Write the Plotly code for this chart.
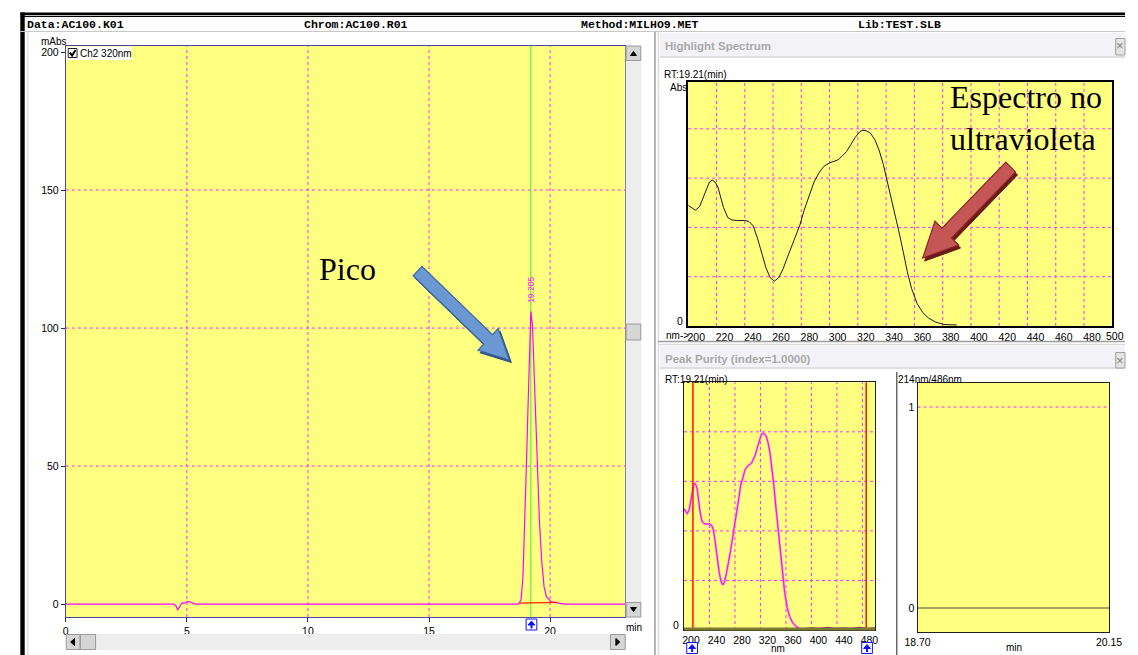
import math
import plotly.graph_objects as go

W, H = 1138, 655
SANS = "Liberation Sans"
SERIF = "Liberation Serif"
MONO = "Liberation Mono"
YELLOW = "#ffff80"
GRID = "#ff2cff"
MAGENTA = "#ff00ff"

# ---------------- data ----------------
# Chromatogram, channel 2 (320 nm), mAbs vs retention time (min)
chrom_time_min = [0.0, 4.45, 4.55, 4.62, 4.70, 4.80, 4.90, 5.00, 5.10, 5.20, 5.35,
                  18.70, 18.80, 18.88, 18.95, 19.02, 19.09, 19.15, 19.205, 19.27, 19.34,
                  19.41, 19.48, 19.56, 19.65, 19.75, 19.85, 20.05, 20.30, 20.60, 23.10]
chrom_mabs = [0.0, 0.0, -0.6, -2.2, -1.0, 0.4, 0.3, 0.8, 0.9, 0.6, 0.0,
              0.0, 1.5, 10.0, 28.0, 50.0, 72.0, 94.0, 106.0, 101.0, 82.0,
              64.0, 50.0, 30.0, 16.0, 6.3, 2.6, 0.8, 0.4, 0.0, 0.0]
peak_rt_min = 19.205
peak_label = "19.205"
baseline_time_min = [18.75, 20.30]
baseline_mabs = [0.3, 0.6]

# UV spectrum at RT 19.21 min
spectrum_nm = [200, 203, 205, 208, 211, 213, 215, 217, 219, 221, 223, 225, 228, 231,
               235, 240, 243, 246, 249, 252, 255, 258, 261, 264, 267, 270, 275, 279,
               282, 286, 289, 293, 296, 300, 306, 309, 312, 315, 318, 321, 323, 326,
               329, 332, 335, 338, 341, 345, 349, 352, 355, 358, 362, 366, 370, 375,
               381, 390]
spectrum_abs = [2.45, 2.38, 2.35, 2.42, 2.65, 2.80, 2.92, 2.96, 2.92, 2.82, 2.60, 2.40,
                2.20, 2.15, 2.14, 2.14, 2.12, 2.03, 1.78, 1.45, 1.18, 0.98, 0.91, 0.98,
                1.15, 1.38, 1.75, 2.05, 2.35, 2.66, 2.92, 3.13, 3.24, 3.31, 3.37, 3.45,
                3.54, 3.68, 3.82, 3.93, 3.97, 3.96, 3.91, 3.78, 3.57, 3.28, 2.92, 2.38,
                1.92, 1.52, 1.10, 0.76, 0.45, 0.27, 0.16, 0.08, 0.03, 0.02]
# spectra tail used in the peak purity overlay
purity_tail_nm = [390, 400, 412, 425, 438, 450, 462, 475, 488, 500]
purity_tail_abs = [0.02, 0.03, 0.02, 0.04, 0.02, 0.03, 0.02, 0.04, 0.02, 0.03]
purity_window_nm = [214, 486]

# 214nm/486nm ratio across the peak
ratio_time_min = [18.70, 20.15]
ratio_value = [0.0, 0.0]

# tick labels and grid positions
chrom_time_ticks = [0, 5, 10, 15, 20]
chrom_abs_ticks = [0, 50, 100, 150, 200]
chrom_grid_time = [5, 10, 15, 20]
chrom_grid_abs = [50, 100, 150]
spectrum_nm_ticks = list(range(200, 481, 20))
spectrum_grid_nm = list(range(220, 481, 20))
spectrum_grid_abs = [1, 2, 3, 4]
purity_nm_ticks = list(range(200, 481, 40))
purity_grid_nm = list(range(240, 481, 40))
purity_grid_abs = [1, 2, 3, 4]
ratio_time_ticks = [18.70, 20.15]
ratio_time_text = ["18.70", "20.15"]
ratio_ticks = [0, 1]


# ---------------- helpers (pixel -> paper) ----------------
def fx(x):
    return x / W


def fy(y):
    return 1 - y / H


shapes = []
annotations = []


def prect(x0, y0, x1, y1, fill, line=None, lw=0, layer="above"):
    shapes.append(dict(type="rect", xref="paper", yref="paper",
                       x0=fx(x0), x1=fx(x1), y0=fy(y1), y1=fy(y0),
                       fillcolor=fill, layer=layer,
                       line=dict(color=line or fill, width=lw)))


def pline(x0, y0, x1, y1, color, width=1, layer="above"):
    shapes.append(dict(type="line", xref="paper", yref="paper",
                       x0=fx(x0), x1=fx(x1), y0=fy(y0), y1=fy(y1),
                       layer=layer, line=dict(color=color, width=width)))


def ppath(points, fill, line=None, lw=1, layer="above"):
    d = "M " + " L ".join(f"{fx(x):.5f},{fy(y):.5f}" for x, y in points) + " Z"
    shapes.append(dict(type="path", xref="paper", yref="paper", path=d,
                       fillcolor=fill, layer=layer,
                       line=dict(color=line or fill, width=lw)))


def text(t, x, y, size=10.5, color="black", family=SANS, xanchor="left",
         yanchor="middle", **kw):
    annotations.append(dict(text=t, xref="paper", yref="paper", x=fx(x), y=fy(y),
                            xanchor=xanchor, yanchor=yanchor, showarrow=False,
                            borderpad=0, font=dict(size=size, color=color, family=family),
                            **kw))


def vgrid(xa, ya, values, color=GRID, width=1, dash="3px,3px"):
    for v in values:
        shapes.append(dict(type="line", xref=xa, yref=ya + " domain", x0=v, x1=v,
                           y0=0, y1=1, layer="below",
                           line=dict(color=color, width=width, dash=dash)))


def hgrid(xa, ya, values, color=GRID, width=1, dash="3px,3px"):
    for v in values:
        shapes.append(dict(type="line", xref=xa + " domain", yref=ya, x0=0, x1=1,
                           y0=v, y1=v, layer="below",
                           line=dict(color=color, width=width, dash=dash)))


def block_arrow(tail, tip, shaft_hw, head_hw, head_len):
    dx, dy = tip[0] - tail[0], tip[1] - tail[1]
    L = math.hypot(dx, dy)
    ux, uy = dx / L, dy / L
    nx, ny = -uy, ux
    bx, by = tip[0] - head_len * ux, tip[1] - head_len * uy
    return [(tail[0] + shaft_hw * nx, tail[1] + shaft_hw * ny),
            (bx + shaft_hw * nx, by + shaft_hw * ny),
            (bx + head_hw * nx, by + head_hw * ny),
            tip,
            (bx - head_hw * nx, by - head_hw * ny),
            (bx - shaft_hw * nx, by - shaft_hw * ny),
            (tail[0] - shaft_hw * nx, tail[1] - shaft_hw * ny)]


def up_marker(cx, y0, y1):
    prect(cx - 5.5, y0, cx + 5.5, y1, "#ffffff", "#1010ff", 1)
    ppath([(cx - 3.5, y0 + 6), (cx, y0 + 2), (cx + 3.5, y0 + 6)], "#1010ff")
    prect(cx - 1, y0 + 5.5, cx + 1, y1 - 1.5, "#1010ff")


# ---------------- figure ----------------
fig = go.Figure()

fig.add_trace(go.Scatter(x=chrom_time_min, y=chrom_mabs, mode="lines",
                         line=dict(color=MAGENTA, width=1.2), xaxis="x", yaxis="y"))
fig.add_trace(go.Scatter(x=baseline_time_min, y=baseline_mabs, mode="lines",
                         line=dict(color="#ff2000", width=1.2), xaxis="x", yaxis="y"))

fig.add_trace(go.Scatter(x=spectrum_nm, y=spectrum_abs, mode="lines",
                         line=dict(color="#1a1a1a", width=1), xaxis="x2", yaxis="y2"))

fig.add_trace(go.Scatter(x=spectrum_nm, y=spectrum_abs, mode="lines",
                         line=dict(color="#ff8ad0", width=2.2), xaxis="x3", yaxis="y3"))
fig.add_trace(go.Scatter(x=spectrum_nm, y=spectrum_abs, mode="lines",
                         line=dict(color=MAGENTA, width=1), xaxis="x3", yaxis="y3"))
fig.add_trace(go.Scatter(x=purity_tail_nm, y=purity_tail_abs, mode="lines",
                         line=dict(color="#a01890", width=2.5), xaxis="x3", yaxis="y3"))

fig.add_trace(go.Scatter(x=ratio_time_min, y=ratio_value, mode="lines",
                         line=dict(color="#4a4a30", width=1.2), xaxis="x4", yaxis="y4"))

# gridlines
vgrid("x", "y", chrom_grid_time)
hgrid("x", "y", chrom_grid_abs)
vgrid("x2", "y2", spectrum_grid_nm)
hgrid("x2", "y2", spectrum_grid_abs)
vgrid("x3", "y3", purity_grid_nm)
hgrid("x3", "y3", purity_grid_abs)
hgrid("x4", "y4", [1])

# retention-time cursor and purity window limits
shapes.append(dict(type="line", xref="x", yref="y domain", x0=peak_rt_min, x1=peak_rt_min,
                   y0=0, y1=1, layer="below", line=dict(color="#40e840", width=1)))
for nm in purity_window_nm:
    shapes.append(dict(type="line", xref="x3", yref="y3 domain", x0=nm, x1=nm,
                       y0=0, y1=1, layer="above", line=dict(color="#ff1010", width=1.5)))
# olive floor of the purity overlay
shapes.append(dict(type="line", xref="x3 domain", yref="y3 domain", x0=0, x1=1,
                   y0=0.004, y1=0.004, layer="above", line=dict(color="#7a7a30", width=3)))

tick_font = dict(family=SANS, size=10.5, color="black")
common = dict(showgrid=False, zeroline=False, showline=True, mirror=True,
              tickfont=tick_font, fixedrange=True)

fig.update_layout(
    width=W, height=H, autosize=False,
    margin=dict(l=0, r=0, t=0, b=0, pad=0),
    paper_bgcolor="white", plot_bgcolor=YELLOW,
    showlegend=False, hovermode=False,
    xaxis=dict(domain=[fx(54), fx(626.5)], range=[0, 23.1], anchor="y",
               tickvals=chrom_time_ticks, ticks="outside", ticklen=4, tickcolor="#333",
               linecolor="#4848a0", linewidth=1, **common),
    yaxis=dict(domain=[fy(617), fy(46)], range=[-4.7, 202.2], anchor="x",
               tickvals=chrom_abs_ticks, ticks="outside", ticklen=4, tickcolor="#333",
               linecolor="#4848a0", linewidth=1, **common),
    xaxis2=dict(domain=[fx(691), fx(1125)], range=[200, 500], anchor="y2",
                tickvals=spectrum_nm_ticks, ticks="", ticklabelshift=8,
                linecolor="black", linewidth=2, **common),
    yaxis2=dict(domain=[fy(326), fy(81.5)], range=[0, 4.96], anchor="x2",
                showticklabels=False, ticks="", linecolor="black", linewidth=2, **common),
    xaxis3=dict(domain=[fx(686.7), fx(882.3)], range=[200, 500], anchor="y3",
                tickvals=purity_nm_ticks, ticks="", ticklabelshift=7,
                linecolor="#202020", linewidth=1, **common),
    yaxis3=dict(domain=[fy(630), fy(382.3)], range=[0, 5.0], anchor="x3",
                showticklabels=False, ticks="", linecolor="#202020", linewidth=1, **common),
    xaxis4=dict(domain=[fx(925.7), fx(1121.7)], range=[18.70, 20.15], anchor="y4",
                tickvals=ratio_time_ticks, ticktext=ratio_time_text, ticks="",
                linecolor="#202020", linewidth=1, **common),
    yaxis4=dict(domain=[fy(632.3), fy(382.7)], range=[-0.121, 1.121], anchor="x4",
                tickvals=ratio_ticks, ticks="", linecolor="#202020", linewidth=1, **common),
)

# ---------------- window chrome ----------------
prect(7.5, 12.5, W, 15.2, "black")
pline(7.5, 16.5, W, 16.5, "black", 1.2)
prect(7.5, 12.5, 12, H, "black")
pline(7.5, 31.5, W, 31.5, "#c8c8c8", 1)
pline(15, 32, 15, H, "#d8d8d8", 1)

# header row
text("<b>Data:AC100.K01</b>", 13, 24.5, 11.5, family=MONO)
text("<b>Chrom:AC100.R01</b>", 297, 24.5, 11.5, family=MONO)
text("<b>Method:MILHO9.MET</b>", 580, 24.5, 11.5, family=MONO)
text("<b>Lib:TEST.SLB</b>", 864, 24.5, 11.5, family=MONO)

# main chromatogram decorations
text("mAbs", 41.5, 41.5, 10, xanchor="center")
prect(54.5, 46.5, 121, 60, "white")
prect(56.5, 48.5, 65.5, 57.5, "white", "#202020", 1)
shapes.append(dict(type="path", xref="paper", yref="paper", layer="above",
                   path=f"M {fx(58)},{fy(52.5)} L {fx(60.5)},{fy(55.5)} L {fx(64)},{fy(50)}",
                   line=dict(color="black", width=2)))
text("Ch2 320nm", 68, 53.5, 10)
text("min", 635.5, 627.5, 10, xanchor="center")
annotations.append(dict(text=peak_label, x=peak_rt_min, xref="x", y=fy(290), yref="paper",
                        textangle=-90, showarrow=False, xanchor="center", yanchor="middle",
                        font=dict(size=8.5, color="#ff00ff", family=SANS)))
up_marker(530.6, 619, 630)

# vertical scrollbar
prect(627, 46, 643, 617, "#ededed")
for (a, b) in [(46, 60.5), (602.5, 617)]:
    prect(627.5, a, 642.5, b, "#d6d6d6", "#9a9a9a", 1)
ppath([(632, 55.5), (635, 51.5), (638, 55.5)], "black")
ppath([(632, 607.5), (635, 611.5), (638, 607.5)], "black")
prect(627.5, 324, 642.5, 340, "#d6d6d6", "#9a9a9a", 1)
# horizontal scrollbar
prect(54, 634, 627, 650, "#ededed")
for (a, b) in [(54.5, 68.5), (69, 84.5), (611.5, 626.5)]:
    prect(a, 634.5, b, 649.5, "#d6d6d6", "#9a9a9a", 1)
ppath([(63, 638.5), (59, 642), (63, 645.5)], "black")
ppath([(617, 638.5), (621, 642), (617, 645.5)], "black")

# right-hand panels: separators and title bars
pline(657, 32, 657, H, "#9c9c9c", 1.5)
pline(660.5, 32, 660.5, H, "#dcdcdc", 1.5)
prect(662, 33, W, 56.5, "#f3f3f7")
pline(662, 57, W, 57, "#c0c0c0", 1)
prect(1128.5, 38.5, W, 55, "#e4e4e4", "#a0a0a0", 1)
text("×", 1132.5, 46, 13, color="#808080", xanchor="center")
text("<b>Highlight Spectrum</b>", 666, 45.7, 11.5, color="#a9a9a9")

pline(660, 341.5, W, 341.5, "#9c9c9c", 1.5)
pline(660, 344.5, W, 344.5, "#dcdcdc", 1.5)
prect(662, 346, W, 367, "#f3f3f7")
pline(662, 368, W, 368, "#c0c0c0", 1)
prect(1128.5, 352.5, W, 368, "#e4e4e4", "#a0a0a0", 1)
text("×", 1132.5, 360, 13, color="#808080", xanchor="center")
text("<b>Peak Purity (index=1.0000)</b>", 666, 359, 11.5, color="#a9a9a9")

# spectrum labels
text("RT:19.21(min)", 665, 75, 10)
text("Abs", 671, 88, 10)
text("0", 687, 321, 10.5, xanchor="right")
text("nm->", 667.5, 335.5, 10)
text("500", 1137.5, 335.5, 10.5, xanchor="right")

# peak purity labels
text("RT:19.21(min)", 666, 379, 10)
text("214nm/486nm", 905, 379, 10)
pline(904.5, 372, 904.5, H, "#202020", 1)
text("0", 682.5, 625, 10.5, xanchor="right")
text("nm", 783, 648, 10, xanchor="center")
text("min", 1024, 647, 10, xanchor="center")
up_marker(695, 642.5, 653.5)
up_marker(874, 642.5, 653.5)

# callouts
text("Pico", 312, 269, 32, family=SERIF)
text("Espectro no", 958, 97, 32, family=SERIF)
text("ultravioleta", 958, 139, 32, family=SERIF)

blue = block_arrow((414, 271), (508, 360), 6.5, 15, 30)
ppath([(x + 2, y + 2.5) for x, y in blue], "#2c5286", layer="above")
ppath(blue, "#6b98d2", "#3a68a2", 1.2)
red = block_arrow((1021, 167), (931, 258), 7, 17, 35)
ppath([(x + 2, y + 3) for x, y in red], "#6a1818", layer="above")
ppath(red, "#c45656", "#8a2626", 1.2)

fig.update_layout(shapes=shapes, annotations=annotations)
fig.write_html("out.html", config={"displayModeBar": False})
